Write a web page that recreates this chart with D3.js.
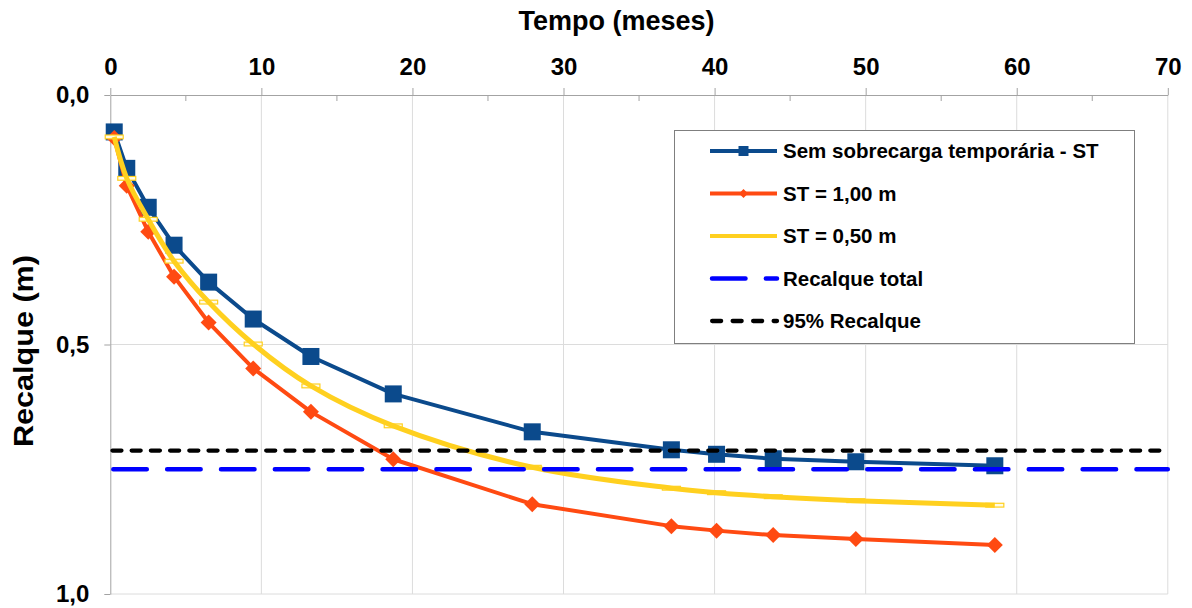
<!DOCTYPE html>
<html>
<head>
<meta charset="utf-8">
<script src="https://cdn.jsdelivr.net/npm/d3@7"></script>
<style>
  html, body { margin: 0; padding: 0; background: #fff; }
  svg { display: block; font-family: "Liberation Sans", Arial, sans-serif; font-weight: bold; }
</style>
</head>
<body>
<svg id="chart" width="1192" height="608"></svg>
<script>
// Tempo de observação (meses)
const tempo = [0.26, 1.09, 2.51, 4.22, 6.51, 9.46, 13.28, 18.73, 27.93, 37.14, 40.13, 43.88, 49.35, 58.55];
// Recalques (m) por cenário
const semST = [0.074, 0.147, 0.225, 0.301, 0.375, 0.449, 0.524, 0.599, 0.675, 0.711, 0.720, 0.729, 0.735, 0.743];
const st100 = [0.086, 0.182, 0.274, 0.364, 0.456, 0.548, 0.635, 0.730, 0.820, 0.864, 0.873, 0.882, 0.890, 0.902];
const st050 = [0.084, 0.167, 0.249, 0.333, 0.415, 0.499, 0.583, 0.663, 0.746, 0.788, 0.797, 0.805, 0.813, 0.822];
// Recalque final e 95% dele
const recalqueTotal = 0.75;
const recalque95 = 0.7125;

const xTicks = [0, 10, 20, 30, 40, 50, 60, 70];
const xMinorTicks = [5, 15, 25, 35, 45, 55, 65];
const yTicks = [0, 0.5, 1.0];

const legendLabels = [
  "Sem sobrecarga temporária - ST",
  "ST = 1,00 m",
  "ST = 0,50 m",
  "Recalque total",
  "95% Recalque"
];

const C = {
  semST: "#0b4a8c",
  st100: "#ff4a12",
  st050: "#ffd01f",
  total: "#0000ff",
  p95: "#000000",
  axis: "#a3a3a3",
  grid: "#dcdcdc"
};

const svg = d3.select("#chart");
const L = 110.3, R = 1167.8, T = 95, B = 594;

const x = d3.scaleLinear().domain([0, 70]).range([L, R]);
const y = d3.scaleLinear().domain([0, 1]).range([T, B]);

// grid
const grid = svg.append("g");
grid.selectAll("line.v").data(xTicks.slice(1)).join("line")
  .attr("x1", d => x(d)).attr("x2", d => x(d))
  .attr("y1", T).attr("y2", B)
  .attr("stroke", C.grid).attr("stroke-width", 1);
grid.selectAll("line.h").data(yTicks.slice(1)).join("line")
  .attr("x1", L).attr("x2", R)
  .attr("y1", d => y(d)).attr("y2", d => y(d))
  .attr("stroke", C.grid).attr("stroke-width", 1);

// x axis on top
const xAxis = svg.append("g").attr("transform", `translate(0,${T})`)
  .call(d3.axisTop(x).tickValues(xTicks).tickSize(7).tickSizeOuter(0).tickPadding(13)
    .tickFormat(d3.format("d")));
xAxis.select(".domain").attr("stroke", C.axis);
xAxis.selectAll(".tick line").attr("stroke", C.axis);
xAxis.selectAll(".tick text").attr("font-size", 24).attr("font-family", null).attr("fill", "#000");
xAxis.selectAll("line.minor").data(xMinorTicks).join("line").attr("class", "minor")
  .attr("x1", d => x(d)).attr("x2", d => x(d))
  .attr("y1", 0).attr("y2", 6).attr("stroke", C.axis);

// y axis
const yAxis = svg.append("g").attr("transform", `translate(${L},0)`)
  .call(d3.axisLeft(y).tickValues(yTicks).tickSize(6).tickSizeOuter(0).tickPadding(15)
    .tickFormat(d => d3.format(".1f")(d).replace(".", ",")));
yAxis.select(".domain").attr("stroke", C.axis);
yAxis.selectAll(".tick line").attr("stroke", C.axis);
yAxis.selectAll(".tick text").attr("font-size", 24).attr("font-family", null).attr("fill", "#000");

// axis titles
svg.append("text").attr("x", 616.5).attr("y", 30).attr("text-anchor", "middle")
  .attr("font-size", 27).text("Tempo (meses)");
svg.append("text").attr("transform", "translate(33,351) rotate(-90)")
  .attr("text-anchor", "middle").attr("font-size", 28)
  .attr("textLength", 192).attr("lengthAdjust", "spacingAndGlyphs")
  .text("Recalque (m)");

const pts = vals => tempo.map((t, i) => [t, vals[i]]);
const lineLin = d3.line().x(d => x(d[0])).y(d => y(d[1]));
const lineSmooth = d3.line().x(d => x(d[0])).y(d => y(d[1])).curve(d3.curveCatmullRom.alpha(0.5));
const diamond = s => `M0,${-s}L${s},0L0,${s}L${-s},0Z`;

// Sem sobrecarga temporária
const g1 = svg.append("g");
g1.append("path").attr("d", lineLin(pts(semST))).attr("fill", "none")
  .attr("stroke", C.semST).attr("stroke-width", 4).attr("stroke-linejoin", "round");
g1.selectAll("rect").data(pts(semST)).join("rect")
  .attr("x", d => x(d[0]) - 8.5).attr("y", d => y(d[1]) - 8.5)
  .attr("width", 17).attr("height", 17).attr("fill", C.semST);

// ST = 1,00 m
const g2 = svg.append("g");
g2.append("path").attr("d", lineLin(pts(st100))).attr("fill", "none")
  .attr("stroke", C.st100).attr("stroke-width", 4).attr("stroke-linejoin", "round");
g2.selectAll("path.m").data(pts(st100)).join("path").attr("class", "m")
  .attr("transform", d => `translate(${x(d[0])},${y(d[1])})`)
  .attr("d", diamond(8)).attr("fill", C.st100);

// ST = 0,50 m (marcadores sob a linha suavizada)
const g3 = svg.append("g");
g3.selectAll("rect").data(pts(st050)).join("rect")
  .attr("x", d => x(d[0]) - 9).attr("y", d => y(d[1]) - 1.9)
  .attr("width", 18).attr("height", 3.8)
  .attr("fill", "#fffbe6").attr("stroke", C.st050).attr("stroke-width", 1.2);
g3.append("path").attr("d", lineSmooth(pts(st050))).attr("fill", "none")
  .attr("stroke", C.st050).attr("stroke-width", 5).attr("stroke-linejoin", "round");

// linhas de referência
svg.append("line").attr("x1", x(0)).attr("x2", x(70))
  .attr("y1", y(recalqueTotal)).attr("y2", y(recalqueTotal))
  .attr("stroke", C.total).attr("stroke-width", 4.5).attr("stroke-linecap", "round")
  .attr("stroke-dasharray", "33.5 20.35").attr("stroke-dashoffset", -3);
svg.append("line").attr("x1", x(0)).attr("x2", x(70))
  .attr("y1", y(recalque95)).attr("y2", y(recalque95))
  .attr("stroke", C.p95).attr("stroke-width", 4.3).attr("stroke-linecap", "round")
  .attr("stroke-dasharray", "9 10.22").attr("stroke-dashoffset", -2.15);

// legenda
const leg = svg.append("g");
leg.append("rect").attr("x", 674.5).attr("y", 130.5).attr("width", 460).attr("height", 213)
  .attr("fill", "#fff").attr("stroke", "#7f7f7f").attr("stroke-width", 1);

const legStyles = [
  { color: C.semST, w: 4, dash: null, marker: "square" },
  { color: C.st100, w: 4, dash: null, marker: "diamond" },
  { color: C.st050, w: 4, dash: null, marker: null },
  { color: C.total, w: 4.5, dash: "33.5 20.35", off: -2, marker: null },
  { color: C.p95, w: 4.3, dash: "9 11.5", off: -2.15, marker: null }
];
const rows = leg.selectAll("g.row").data(legendLabels).join("g").attr("class", "row")
  .attr("transform", (d, i) => `translate(0,${151 + i * 42.5})`);
rows.append("line").attr("x1", 710).attr("x2", 777).attr("y1", 0).attr("y2", 0)
  .attr("stroke", (d, i) => legStyles[i].color)
  .attr("stroke-width", (d, i) => legStyles[i].w)
  .attr("stroke-linecap", (d, i) => legStyles[i].dash ? "round" : "butt")
  .attr("stroke-dasharray", (d, i) => legStyles[i].dash)
  .attr("stroke-dashoffset", (d, i) => legStyles[i].off || 0);
rows.filter((d, i) => legStyles[i].marker === "square").append("rect")
  .attr("x", 743.5 - 5).attr("y", -5).attr("width", 10).attr("height", 10).attr("fill", C.semST);
rows.filter((d, i) => legStyles[i].marker === "diamond").append("path")
  .attr("transform", "translate(743.5,0)").attr("d", diamond(4.5)).attr("fill", C.st100);
rows.append("text").attr("x", 783).attr("y", 7.3).attr("font-size", 20.5).attr("fill", "#000")
  .text(d => d);
</script>
</body>
</html>
